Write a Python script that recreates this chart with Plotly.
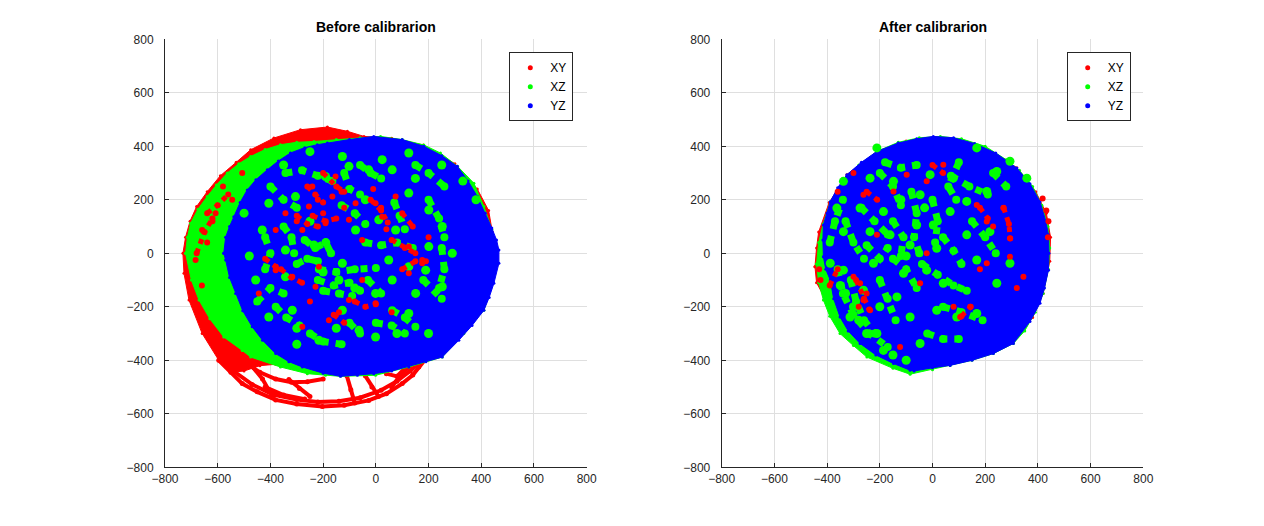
import plotly.graph_objects as go

RED = "#ff0000"
GREEN = "#00ff00"
BLUE = "#0000ff"

# ---------------- Before calibrarion (left panel) ----------------
# XY (red): outline of the red cloud
before_xy_env = [(-596, -400), (-659, -300), (-709, -175), (-728, -75), (-732, 0), (-722, 60),
                 (-705, 120), (-680, 175), (-640, 230), (-590, 290), (-530, 340), (-475, 387),
                 (-387, 431), (-286, 462), (-184, 472), (-108, 456), (-45, 437), (60, 430),
                 (180, 405), (300, 335), (385, 240), (428, 160), (442, 80), (445, 0), (400, -200),
                 (310, -300), (240, -370), (120, -410), (0, -440), (-130, -445), (-250, -440),
                 (-380, -415), (-440, -420), (-500, -440), (-550, -445)]
# XY: loose loops at the bottom
before_xy_loops = [
    [(-596, -400), (-550, -445), (-507, -487), (-450, -518), (-380, -548), (-300, -563), (-203, -573),
     (-120, -568), (-27, -550), (40, -525), (100, -487), (140, -455), (163, -425), (185, -400)],
    [(-600, -370), (-540, -440), (-470, -490), (-390, -528), (-300, -547), (-220, -556), (-140, -553),
     (-60, -540), (20, -512), (80, -478), (130, -440), (170, -405)],
    [(-420, -500), (-350, -530), (-270, -545)],
    [(-560, -350), (-500, -405), (-440, -445), (-380, -470), (-320, -482), (-260, -480), (-200, -470)],
    [(-480, -410), (-430, -470), (-390, -540)],
    [(-110, -458), (-95, -510), (-80, -560)],
    [(-40, -458), (-15, -500), (10, -535)],
    [(-330, -472), (-290, -505), (-250, -535)],
    [(40, -450), (80, -460), (110, -430)],
    [(60, -500), (90, -460), (130, -420)],
]
# XY: tracks and patches showing through the others
before_xy_tracks = [
    [(-260, 250), (-230, 220), (-200, 190)],
    [(-20, 200), (20, 160), (45, 115)],
    [(100, 150), (140, 100)],
    [(-300, 140), (-260, 110), (-220, 100)],
    [(-360, -60), (-320, -90), (-280, -110)],
    [(-160, -230), (-120, -260)],
    [(100, -60), (150, -30), (190, -30)],
    [(-640, 150), (-600, 180), (-560, 220)],
    [(-200, 300), (-150, 250), (-120, 230)],
    [(-420, -20), (-380, -50)],
    [(-80, -180), (-40, -200), (0, -190)],
    [(-240, 140), (-190, 120), (-150, 130)],
    [(60, 50), (110, 20), (150, 0)],
    [(-680, 0), (-650, 80), (-620, 130)],
]
before_xy_spots = [(-241, 250), (-165, 212), (-254, 175), (-343, 150), (-77, 187), (-1, 187), (24, 137),
                   (-102, 125), (-191, 112), (-279, 87), (-380, 87), (176, -25), (125, 25), (-52, 50),
                   (-216, -50), (-380, -50), (75, 212), (-153, 287), (-608, 150), (-545, 200),
                   (-659, 87), (-684, -25), (-507, 300), (-380, -63), (-317, -88), (-229, -125),
                   (-178, -250), (-102, -175), (-1, -187), (125, -75), (176, -37), (-444, -150),
                   (-279, -275), (-52, -100), (-130, 230), (40, 90), (-220, 200), (-200, 150),
                   (-120, 170), (20, 170), (-300, 120), (-640, 40), (-620, 120), (-580, 250),
                   (-660, -120), (-250, -180), (-140, -220), (60, -220), (200, 60), (-10, 240)]

# XZ (green): outline of the green cloud, tracks and patches showing through the blue
before_xz_env = [(-722, 0), (-715, 60), (-703, 112), (-675, 165), (-640, 212), (-605, 255), (-564, 300),
                 (-520, 335), (-475, 362), (-420, 388), (-362, 406), (-300, 415), (-235, 418),
                 (-150, 425), (-60, 432), (18, 437), (100, 425), (182, 405), (245, 375), (310, 325),
                 (372, 262), (410, 175), (440, 90), (455, 0), (445, -110), (410, -213), (334, -300),
                 (252, -388), (125, -425), (-1, -456), (-134, -460), (-191, -456), (-260, -450),
                 (-362, -425), (-475, -388), (-507, -363), (-577, -313), (-630, -245), (-671, -175),
                 (-700, -100)]
before_xz_tracks = [
    [(-343, 300), (-280, 310), (-220, 290), (-165, 270)],
    [(-60, 330), (-20, 300), (20, 280)],
    [(70, 190), (90, 140), (110, 90)],
    [(-270, 50), (-230, 20), (-190, 40), (-170, 0)],
    [(-216, -60), (-150, -70), (-80, -60), (0, -55)],
    [(-220, -100), (-160, -120), (-100, -110), (-60, -140)],
    [(-200, -140), (-140, -150), (-90, -160)],
    [(-380, -200), (-340, -240), (-290, -270)],
    [(-100, -260), (-60, -300)],
    [(62, -213), (110, -240), (150, -275)],
    [(-30, -100), (20, -150)],
    [(180, -100), (250, -170)],
    [(-420, 60), (-400, 0), (-420, -60)],
    [(200, 200), (240, 130), (260, 60)],
    [(-400, 250), (-350, 200), (-300, 170)],
    [(-120, 300), (-100, 240), (-60, 220)],
    [(150, 330), (200, 300), (260, 250)],
    [(250, 20), (260, -60), (240, -130)],
    [(-450, -180), (-400, -130), (-350, -150)],
    [(-250, -300), (-200, -330), (-130, -340)],
    [(0, -260), (60, -270), (110, -300)],
    [(-130, 180), (-80, 150), (-40, 110)],
    [(-300, -40), (-260, -20), (-220, -30)],
    [(-40, 40), (20, 30), (80, 40), (140, 20)],
    [(-350, 100), (-320, 60), (-310, 0)],
]
before_xz_spots = [(-140, -100), (-200, -70), (-80, -130), (-343, -88), (-456, -100), (-216, -325),
                   (-64, -288), (-1, -313), (125, -225), (151, -150), (252, -125), (62, -100),
                   (-317, -213), (-406, -238), (-127, -213), (-1, -150), (189, -63), (-300, -340),
                   (-235, 31), (-190, 40), (11, 125), (-102, 325), (-27, 312), (62, 312), (125, 225),
                   (201, 162), (252, 100), (201, 25), (290, 0), (-343, 12), (-431, 87), (-406, 187),
                   (-305, 212), (-191, 287), (-127, -37), (49, -25), (125, -50), (-77, 87), (75, 87),
                   (-127, 362), (24, 350), (125, 375), (-250, 380), (-350, 330), (250, 330), (330, 270),
                   (380, 200), (-480, -10), (-500, 150), (-300, -280), (-150, -280), (80, -300),
                   (200, -300), (-250, 120), (-40, 200), (150, 280)]

# YZ (blue): outer edge of the blue cloud
before_yz_outer = [(-577, 0), (-570, 60), (-555, 100), (-539, 137), (-515, 190), (-488, 237), (-455, 275),
                   (-412, 312), (-370, 345), (-324, 375), (-270, 395), (-222, 406), (-184, 412),
                   (-100, 425), (-8, 437), (100, 425), (182, 400), (250, 365), (309, 325), (350, 270),
                   (385, 212), (415, 150), (440, 95), (458, 50), (467, 12), (467, -37), (448, -112),
                   (430, -165), (410, -213), (365, -270), (315, -325), (252, -388), (190, -405),
                   (125, -425), (60, -440), (-8, -450), (-70, -456), (-134, -460), (-200, -448),
                   (-279, -425), (-330, -405), (-380, -375), (-430, -325), (-469, -275), (-505, -215),
                   (-532, -150), (-555, -90), (-570, -25)]

# ---------------- After calibrarion (right panel) ----------------
after_xy_env = [(-446, -50), (-440, 20), (-432, 80), (-392, 190), (-325, 294), (-211, 381), (-100, 420),
                (0, 432), (100, 425), (200, 395), (320, 320), (392, 230), (432, 150), (448, 60),
                (445, -30), (420, -150), (380, -240), (300, -320), (200, -370), (60, -410), (-80, -425),
                (-200, -380), (-300, -310), (-380, -220), (-440, -110)]
after_xy_loops = []
after_xy_tracks = [
    [(-290, -100), (-260, -170), (-240, -210)],
    [(270, 170), (290, 110), (295, 55)],
    [(110, -235), (145, -200)],
    [(-250, 230), (-210, 200)],
    [(-390, -120), (-360, -60)],
    [(0, 330), (40, 300)],
    [(180, 170), (210, 130)],
]
after_xy_spots = [(-262, -175), (-275, -112), (-237, -213), (-300, -88), (294, -13), (206, -37),
                  (105, -238), (143, -200), (345, -88), (320, -130), (-47, -112), (-123, -350),
                  (-22, 0), (-98, 294), (-211, 69), (168, 181), (269, 169), (294, 56), (206, 119),
                  (41, 331), (-148, 231), (-262, 219), (-22, 269), (-430, -60), (-425, -100),
                  (440, 120), (438, 60), (432, 160), (418, 205), (-300, 300), (-360, 230),
                  (-250, -150), (-280, -200), (230, 100), (180, -60), (80, -200)]
after_xz_env = [(-440, -40), (-432, 40), (-415, 110), (-388, 193), (-340, 270), (-280, 330), (-211, 381),
                (-130, 415), (-50, 432), (30, 437), (110, 428), (200, 400), (280, 350), (330, 310),
                (380, 250), (415, 180), (438, 100), (445, 20), (440, -60), (420, -150), (390, -220),
                (350, -290), (307, -337), (231, -375), (150, -400), (67, -419), (0, -435), (-85, -452),
                (-150, -430), (-249, -388), (-300, -345), (-351, -300), (-390, -235), (-414, -175),
                (-432, -110)]
after_xz_tracks = [
    [(-80, 230), (-60, 150), (-70, 60), (-50, 0)],
    [(0, 200), (20, 120), (10, 40)],
    [(-270, 170), (-220, 120), (-170, 70)],
    [(-310, -100), (-290, -180), (-260, -250), (-220, -300)],
    [(-40, -40), (20, -80), (80, -120), (130, -140)],
    [(40, -200), (110, -220), (190, -250)],
    [(70, 290), (140, 250), (210, 220)],
    [(-360, -60), (-340, -150), (-300, -230), (-240, -300), (-170, -350)],
    [(-200, 300), (-150, 250), (-120, 180)],
    [(-330, 120), (-300, 40), (-260, -20)],
    [(150, 120), (200, 60), (240, 0)],
    [(-150, -20), (-100, -60), (-60, -130)],
    [(-180, 340), (-120, 320), (-60, 330)],
    [(230, 300), (280, 250)],
    [(-390, 40), (-370, 120), (-340, 200)],
    [(-20, -300), (40, -320), (100, -320)],
    [(-200, -100), (-170, -170), (-140, -250)],
    [(-150, 120), (-110, 60), (-120, -10)],
    [(40, 60), (80, 10), (110, -40)],
    [(-250, 30), (-200, -20), (-170, 20)],
    [(100, 340), (60, 250), (90, 200)],
]
after_xz_spots = [(-9, 294), (-47, 219), (-60, 106), (3, 106), (-85, 31), (16, 19), (-186, 156), (-161, 69),
                  (-237, 81), (-275, 169), (-148, 269), (79, 281), (130, 194), (206, 231), (218, 81),
                  (130, 69), (67, 156), (-338, 81), (-363, 169), (244, 306), (-237, 281), (-211, 394),
                  (168, 394), (294, 344), (358, 281), (-338, 269), (-262, -138), (-313, -238),
                  (-211, -300), (-186, -363), (-22, -63), (41, -112), (-110, -75), (-135, -163),
                  (92, -238), (168, -225), (168, -25), (244, -112), (294, -37), (16, -213), (-85, -238),
                  (-47, -337), (-388, -37), (-338, -63), (-224, -37), (-330, -150), (-300, -200),
                  (-280, -250), (-250, -300), (-150, -380), (-100, -400), (-300, -100), (-200, -200),
                  (-350, -120), (-30, 170), (-120, 200), (-100, -10)]
after_yz_outer = [(-414, -13), (-416, 50), (-414, 106), (-400, 150), (-388, 193), (-360, 245), (-325, 294),
                  (-270, 340), (-211, 381), (-130, 412), (-60, 428), (3, 437), (80, 432), (160, 410),
                  (240, 375), (320, 319), (370, 260), (408, 193), (430, 120), (440, 69), (442, 0),
                  (440, -63), (425, -130), (408, -187), (370, -255), (307, -337), (231, -375),
                  (150, -400), (67, -419), (0, -428), (-70, -440), (-85, -437), (-148, -412),
                  (-215, -380), (-275, -337), (-320, -290), (-351, -238), (-375, -170), (-388, -100),
                  (-405, -60)]

series_names = ["XY", "XZ", "YZ"]
series_colors = [RED, GREEN, BLUE]
panel_titles = ["Before calibrarion", "After calibrarion"]
tick_vals = [-800, -600, -400, -200, 0, 200, 400, 600, 800]

FONT = "Liberation Sans, Arial, Helvetica, sans-serif"
# the page body adds an 8 px margin, so the figure is that much smaller
OFF = 8
W, H = 1264 - OFF, 526 - OFF


def unzip(pts):
    return [p[0] for p in pts], [p[1] for p in pts]


def join(curves):
    xs, ys = [], []
    for c in curves:
        x, y = unzip(c)
        xs += x + [None]
        ys += y + [None]
    return xs, ys


def px_x(px):
    return (px - OFF) / W


def px_y(py):
    return 1 - (py - OFF) / H


def add_panel(fig, n, xy_env, xy_loops, xy_tracks, xy_spots, xz_env, xz_tracks, xz_spots, yz_outer):
    xa, ya = ("x", "y") if n == 1 else ("x2", "y2")
    leg = "legend" if n == 1 else "legend2"

    def fill(pts, color):
        x, y = unzip(pts)
        fig.add_trace(go.Scatter(x=x + [x[0]], y=y + [y[0]], mode="lines+markers", fill="toself",
                                 fillcolor=color, line=dict(color=color, width=1),
                                 marker=dict(color=color, size=3), xaxis=xa, yaxis=ya,
                                 showlegend=False, hoverinfo="skip"))

    def strokes(curves, color, width, dash="solid"):
        if not curves:
            return
        x, y = join(curves)
        fig.add_trace(go.Scatter(x=x, y=y, mode="lines+markers",
                                 line=dict(color=color, width=width, dash=dash),
                                 marker=dict(color=color, size=width + 1), xaxis=xa, yaxis=ya,
                                 showlegend=False, hoverinfo="skip"))

    def spots(pts, color, size):
        x, y = unzip(pts)
        fig.add_trace(go.Scatter(x=x, y=y, mode="markers", marker=dict(color=color, size=size),
                                 xaxis=xa, yaxis=ya, showlegend=False, hoverinfo="skip"))

    fill(xy_env, RED)
    strokes(xy_loops, RED, 4)
    fill(xz_env, GREEN)
    fill(yz_outer, BLUE)
    # tracks and patches of the lower layers that show through the blue cloud
    strokes(xz_tracks, GREEN, 7, "dot")
    spots(xz_spots, GREEN, 9)
    strokes(xy_tracks, RED, 5, "dot")
    spots(xy_spots, RED, 6)

    for name, color in zip(series_names, series_colors):
        fig.add_trace(go.Scatter(x=[None], y=[None], mode="markers", name=name,
                                 marker=dict(color=color, size=5), xaxis=xa, yaxis=ya, legend=leg))


fig = go.Figure()
add_panel(fig, 1, before_xy_env, before_xy_loops, before_xy_tracks, before_xy_spots,
          before_xz_env, before_xz_tracks, before_xz_spots, before_yz_outer)
add_panel(fig, 2, after_xy_env, after_xy_loops, after_xy_tracks, after_xy_spots,
          after_xz_env, after_xz_tracks, after_xz_spots, after_yz_outer)

axis_style = dict(range=[-800, 800], tickvals=tick_vals, showgrid=True, gridcolor="#dfdfdf",
                  gridwidth=1, zeroline=False, showline=True, linecolor="#262626", linewidth=1,
                  mirror=False, ticks="inside", ticklen=4, tickcolor="#262626", automargin=False,
                  tickfont=dict(family=FONT, size=12, color="#262626"))
y_dom = [px_y(467.3), px_y(39.3)]
x_doms = [[px_x(165), px_x(586.7)], [px_x(721.7), px_x(1143.3)]]

legend_style = dict(bgcolor="white", bordercolor="#262626", borderwidth=1, xanchor="right",
                    yanchor="top", y=px_y(52.3), font=dict(family=FONT, size=12, color="#000000"),
                    tracegroupgap=0)

fig.update_layout(
    template="none",
    width=W, height=H, margin=dict(l=0, r=0, t=0, b=0, pad=0),
    paper_bgcolor="white", plot_bgcolor="white", font=dict(family=FONT),
    xaxis=dict(domain=x_doms[0], anchor="y", **axis_style),
    yaxis=dict(domain=y_dom, anchor="x", ticklabelstandoff=8, **axis_style),
    xaxis2=dict(domain=x_doms[1], anchor="y2", **axis_style),
    yaxis2=dict(domain=y_dom, anchor="x2", ticklabelstandoff=8, **axis_style),
    legend=dict(x=px_x(573.3), **legend_style),
    legend2=dict(x=px_x(1130.7), **legend_style),
)

for dom, title in zip(x_doms, panel_titles):
    fig.add_annotation(text="<b>" + title + "</b>", xref="paper", yref="paper",
                       x=(dom[0] + dom[1]) / 2, y=px_y(27), xanchor="center", yanchor="middle",
                       showarrow=False, font=dict(family=FONT, size=14, color="#000000"))

fig.write_html("out.html", config={"displayModeBar": False})
